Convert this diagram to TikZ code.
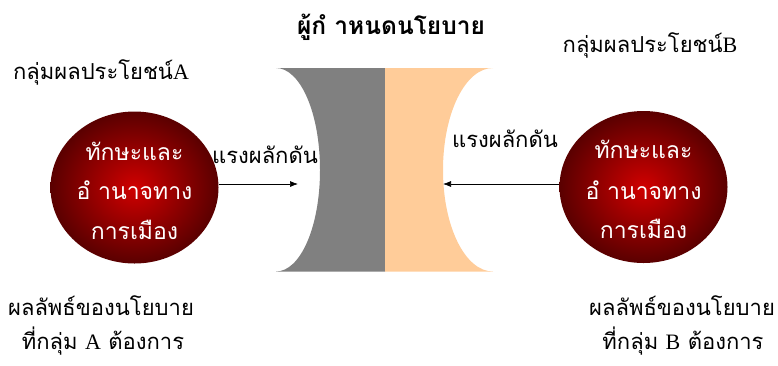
\documentclass[tikz,border=0pt]{standalone}
\usepackage{fontspec}
\newfontfamily\thai[Script=Thai]{Loma}
\newfontfamily\lat{Liberation Serif}
\usetikzlibrary{arrows.meta,shapes.geometric}
\definecolor{gcol}{HTML}{808080}
\definecolor{ocol}{HTML}{FFCC99}
\definecolor{rin}{HTML}{D00000}
\definecolor{rout}{HTML}{5A0000}
\tikzset{
  ball/.style={ellipse, minimum width=168pt, minimum height=152pt, inner sep=0pt,
    inner color=rin, outer color=rout, shading=radial},
  balltext/.style={text=white, font=\thai\fontsize{23}{23}\selectfont, anchor=center, inner sep=0pt},
  lbl/.style={font=\thai\fontsize{22}{22}\selectfont, anchor=center, inner sep=0pt},
  push/.style={-{Latex[length=8pt,width=6pt]}, line width=0.7pt}
}
\begin{document}
\begin{tikzpicture}[x=1pt,y=-1pt]
\useasboundingbox (0,0) rectangle (778,365);
% panels
\fill[gcol] (276,68) -- (385,68) -- (385,271.5) -- (276,271.5)
  .. controls (300.3,271.5) and (320,227) .. (320,170)
  .. controls (320,113) and (300.3,68) .. (276,68) -- cycle;
\fill[ocol] (385,68) -- (493,68)
  .. controls (465.4,68) and (443,113) .. (443,170)
  .. controls (443,227) and (465.4,271.5) .. (493,271.5) -- (385,271.5) -- cycle;
\coordinate (pl) at (298,184);
\coordinate (pr) at (443,184);
% title
\node[lbl, font=\thai\bfseries\fontsize{24.5}{24.5}\selectfont] (title) at (391,27) {ผู้กํ าหนดนโยบาย};
% groups
\node[lbl] (ga) at (101,72) {กลุ่มผลประโยชน์\lat A};
\node[lbl] (gb) at (650,45) {กลุ่มผลประโยชน์\lat B};
% balls
\node[ball] (ba) at (134.5,187.5) {};
\node[ball] (bb) at (643.5,187) {};
\node[balltext] (ta1) at (ba.center) [yshift=36pt] {ทักษะและ};
\node[balltext] (ta2) at (ba.center) [yshift=-3pt] {อํ านาจทาง};
\node[balltext] (ta3) at (ba.center) [yshift=-42pt] {การเมือง};
\node[balltext] (tb1) at (bb.center) [yshift=38pt] {ทักษะและ};
\node[balltext] (tb2) at (bb.center) [yshift=-3pt] {อํ านาจทาง};
\node[balltext] (tb3) at (bb.center) [yshift=-42pt] {การเมือง};
% arrows
\draw[push] (ba.east |- pl) -- (pl);
\draw[push] (bb.west |- pr) -- (pr);
\node[lbl] (fa) at (265,155) {แรงผลักดัน};
\node[lbl] (fb) at (505,139) {แรงผลักดัน};
% outcomes
\node[lbl] (oa1) at (101,306) {ผลลัพธ์ของนโยบาย};
\node[lbl] (oa2) at (103,341) {ที่กลุ่ม \lat A\thai{} ต้องการ};
\node[lbl] (ob1) at (682,306) {ผลลัพธ์ของนโยบาย};
\node[lbl] (ob2) at (683,341) {ที่กลุ่ม \lat B\thai{} ต้องการ};
\end{tikzpicture}
\end{document}
